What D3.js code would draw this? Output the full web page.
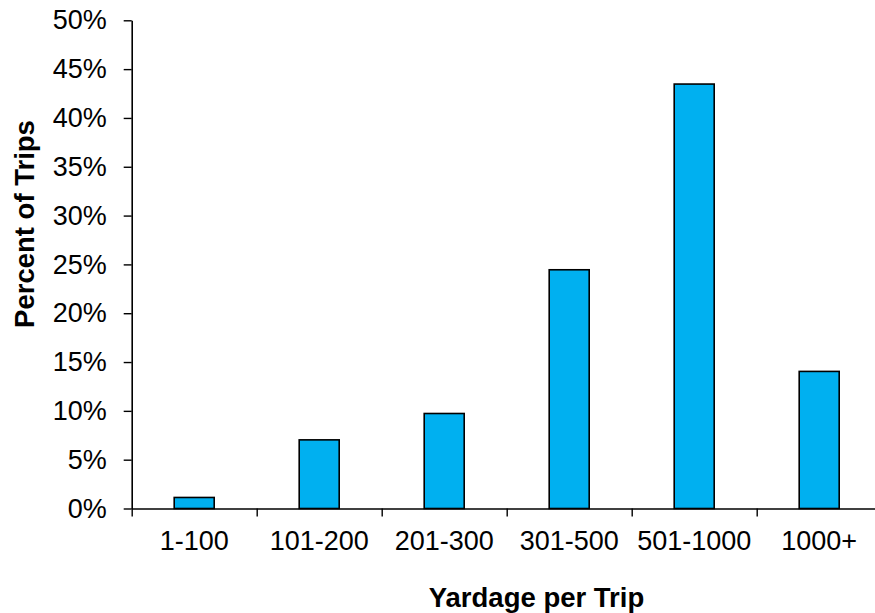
<!DOCTYPE html>
<html>
<head>
<meta charset="utf-8">
<script src="https://cdn.jsdelivr.net/npm/d3@7"></script>
<style>
  html, body { margin: 0; padding: 0; background: #fff; }
  svg { display: block; }
  text { font-family: "Liberation Sans", Arial, sans-serif; fill: #000; }
</style>
</head>
<body>
<svg id="chart" width="875" height="613"></svg>
<script>
const categories = ["1-100", "101-200", "201-300", "301-500", "501-1000", "1000+"];
const values = [0.0113, 0.0703, 0.0973, 0.2445, 0.4347, 0.1404];
const yTicks = [0, 0.05, 0.10, 0.15, 0.20, 0.25, 0.30, 0.35, 0.40, 0.45, 0.50];
const xTitle = "Yardage per Trip";
const yTitle = "Percent of Trips";

const svg = d3.select("#chart");
const plotLeft = 131.7, plotRight = 881.7, plotTop = 20.3, plotBottom = 508.5;

const x = d3.scaleBand().domain(categories).range([plotLeft, plotRight])
  .paddingInner(0.68).paddingOuter(0.34);
const xb = d3.scaleLinear().domain([0, categories.length]).range([plotLeft, plotRight]);
const y = d3.scaleLinear().domain([0, 0.5]).range([plotBottom, plotTop]);

// bars
svg.append("g").selectAll("rect").data(categories).join("rect")
  .attr("x", d => x(d))
  .attr("y", (d, i) => y(values[i]))
  .attr("width", x.bandwidth())
  .attr("height", (d, i) => y(0) - y(values[i]))
  .attr("fill", "#00B0F0")
  .attr("stroke", "#000")
  .attr("stroke-width", 1.6);

// y axis
const yAxis = svg.append("g").attr("transform", `translate(${plotLeft},0)`)
  .call(d3.axisLeft(y).tickValues(yTicks).tickFormat(d3.format(".0%"))
    .tickSize(8).tickSizeOuter(0).tickPadding(17));
yAxis.select(".domain").attr("stroke", "#000").attr("stroke-width", 1.6);
yAxis.selectAll(".tick line").attr("stroke", "#000").attr("stroke-width", 1.4);
yAxis.selectAll(".tick text").style("font-size", "27px").style("font-family", "'Liberation Sans', Arial, sans-serif");

// x axis: boundary ticks
const xAxisB = svg.append("g").attr("transform", `translate(0,${plotBottom})`)
  .call(d3.axisBottom(xb).tickValues(d3.range(categories.length + 1)).tickFormat("")
    .tickSize(8).tickSizeOuter(0));
xAxisB.select(".domain").attr("stroke", "#000").attr("stroke-width", 1.6);
xAxisB.selectAll(".tick line").attr("stroke", "#000").attr("stroke-width", 1.4);

// x axis: labels
const xAxisL = svg.append("g").attr("transform", `translate(0,${plotBottom})`)
  .call(d3.axisBottom(x).tickSize(0).tickPadding(22.5));
xAxisL.select(".domain").remove();
xAxisL.selectAll(".tick text").style("font-size", "27px").style("font-family", "'Liberation Sans', Arial, sans-serif");

// titles
svg.append("text")
  .attr("x", 536.5).attr("y", 607)
  .attr("text-anchor", "middle")
  .style("font-size", "27.5px").style("font-weight", "bold")
  .text(xTitle);

svg.append("text")
  .attr("transform", "translate(34,224) rotate(-90)")
  .attr("text-anchor", "middle")
  .style("font-size", "27.5px").style("font-weight", "bold")
  .text(yTitle);
</script>
</body>
</html>
